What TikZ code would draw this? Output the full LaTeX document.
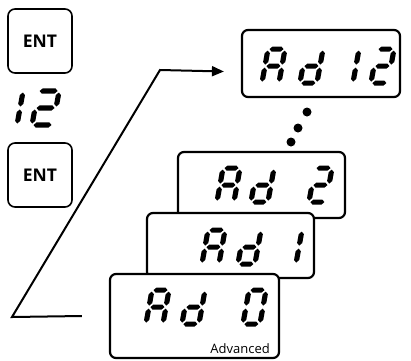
\documentclass[tikz,border=0pt]{standalone}
\usepackage{fontspec}
\setmainfont{Open Sans}
\usetikzlibrary{arrows.meta}

% seven-segment digits
\def\segH{34}
\def\segT{2.6}
\def\segG{1.5}
\newcommand{\hseg}[3]{%
  \fill (#1,#3) -- (#1+\segT,#3+\segT) -- (#2-\segT,#3+\segT) -- (#2,#3)
    -- (#2-\segT,#3-\segT) -- (#1+\segT,#3-\segT) -- cycle;}
\newcommand{\vseg}[3]{%
  \fill (#1,#2) -- (#1+\segT,#2+\segT) -- (#1+\segT,#3-\segT) -- (#1,#3)
    -- (#1-\segT,#3-\segT) -- (#1-\segT,#2+\segT) -- cycle;}
\def\lcdsega{\hseg{\segG}{\segW-\segG}{\segH}}
\def\lcdsegb{\vseg{\segW}{\segH/2+\segG}{\segH-\segG}}
\def\lcdsegc{\vseg{\segW}{\segG}{\segH/2-\segG}}
\def\lcdsegd{\hseg{\segG}{\segW-\segG}{0}}
\def\lcdsege{\vseg{0}{\segG}{\segH/2-\segG}}
\def\lcdsegf{\vseg{0}{\segH/2+\segG}{\segH-\segG}}
\def\lcdsegg{\hseg{\segG}{\segW-\segG}{\segH/2}}
\newcommand{\lcddigit}[5][17]{%
  \begin{scope}[shift={(#2)}, shift={(#3,#4)}, xslant=0.18]
    \def\segW{#1}
    \foreach \s in {#5} {\csname lcdseg\s\endcsname}
  \end{scope}}

\begin{document}
\begin{tikzpicture}[
  x=1pt, y=1pt,
  lcdbox/.style={draw, fill=white, line width=2.2pt, rounded corners=6pt,
                 minimum width=167pt, minimum height=66pt, inner sep=0pt},
  entkey/.style={draw, line width=1.6pt, rounded corners=7pt,
                 minimum size=64pt, font=\fontsize{17.5}{17.5}\selectfont\bfseries},
  arrow/.style={-{Triangle[length=12pt,width=10pt]}, line width=2pt},
  dot/.style={circle, fill=black, inner sep=0pt, minimum size=9pt}
]
\useasboundingbox (0,0) rectangle (411,360);

% keys on the left
\node[entkey] (ent1) at (40,319) {ENT};
\node[entkey] (ent2) at (40,185) {ENT};
\coordinate (code) at (0,235);
\lcddigit[20]{code}{-3}{0}{b,c}
\lcddigit[21]{code}{32}{0}{a,b,g,e,d}

% last parameter
\node[lcdbox, minimum width=158pt, minimum height=67pt] (ad12) at (321,296.5) {};
\lcddigit{ad12.south west}{21}{15}{a,b,c,e,f,g}
\lcddigit{ad12.south west}{59}{15}{b,c,d,e,g}
\lcddigit{ad12.south west}{95}{15}{b,c}
\lcddigit{ad12.south west}{130}{15}{a,b,g,e,d}

\node[dot] (dot1) at (307,248) {};
\node[dot] (dot2) at (298,232) {};
\node[dot] (dot3) at (291,218) {};

% stacked parameters
\node[lcdbox] (ad2) at (261.5,175) {};
\lcddigit{ad2.south west}{40}{17}{a,b,c,e,f,g}
\lcddigit{ad2.south west}{74}{17}{b,c,d,e,g}
\lcddigit{ad2.south west}{132}{17}{a,b,g,e,d}

\node[lcdbox, minimum height=65pt] (ad1) at (230.5,114.5) {};
\lcddigit{ad1.south west}{56}{15}{a,b,c,e,f,g}
\lcddigit{ad1.south west}{92}{15}{b,c,d,e,g}
\lcddigit{ad1.south west}{133}{15}{b,c}

\node[lcdbox, minimum width=169pt, minimum height=84pt] (ad0) at (194.5,44) {};
\lcddigit{ad0.south west}{37}{35}{a,b,c,e,f,g}
\lcddigit{ad0.south west}{73}{35}{b,c,d,e,g}
\lcddigit{ad0.south west}{134}{35}{a,b,c,d,e,f}
\node[anchor=base east, font=\fontsize{13}{13}\selectfont, inner sep=0pt]
  (advlabel) at (270,7) {Advanced};

% jump from Ad 0 to Ad 12
\coordinate (bendlow) at (12,43);
\coordinate (bendhigh) at (160,290);
\draw[arrow] ([xshift=-27pt]ad0.west) -- (bendlow) -- (bendhigh)
  -- ([xshift=-17pt, yshift=-8pt]ad12.west);

\end{tikzpicture}
\end{document}
